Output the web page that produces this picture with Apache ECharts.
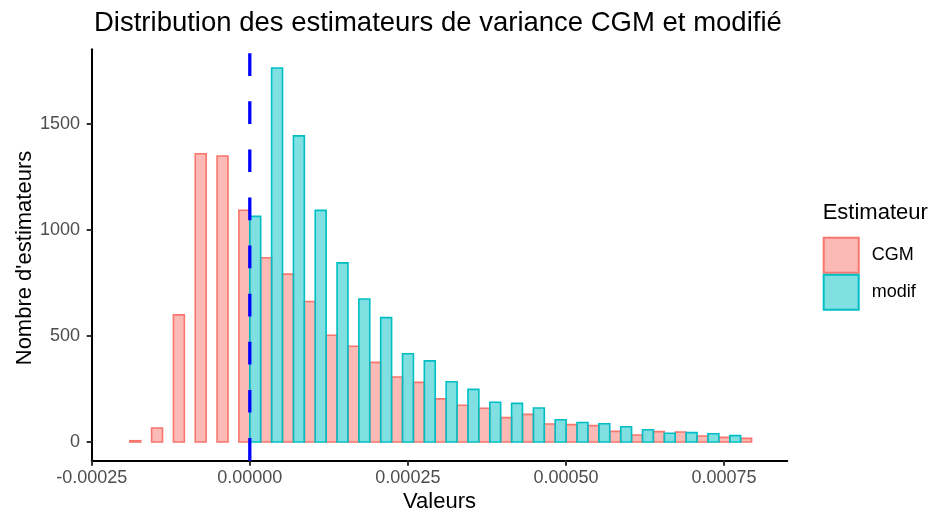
<!DOCTYPE html>
<html>
<head>
<meta charset="utf-8">
<script src="https://cdn.jsdelivr.net/npm/echarts@6/dist/echarts.min.js"></script>
<style>
  html, body { margin: 0; padding: 0; background: #fff; }
  #chart { width: 929px; height: 515px; }
</style>
</head>
<body>
<div id="chart"></div>
<script>
// ---- data ----
const binWidth = 0.0000345;
const binCenters = [
  -0.0001725, -0.000138, -0.0001035, -0.000069, -0.0000345,
  0, 0.0000345, 0.000069, 0.0001035, 0.000138,
  0.0001725, 0.000207, 0.0002415, 0.000276, 0.0003105,
  0.000345, 0.0003795, 0.000414, 0.0004485, 0.000483,
  0.0005175, 0.000552, 0.0005865, 0.000621, 0.0006555,
  0.00069, 0.0007245, 0.000759, 0.0007935
];
const cgmCounts = [
  6, 66, 599, 1358, 1347,
  1092, 868, 791, 662, 503,
  451, 375, 306, 281, 203,
  173, 159, 115, 130, 85,
  82, 77, 50, 33, 49,
  47, 28, 22, 17
];
const modifCounts = [
  null, null, null, null, null,
  1063, 1762, 1442, 1091, 844,
  674, 586, 416, 382, 284,
  248, 187, 182, 160, 105,
  92, 86, 72, 58, 41,
  44, 39, 30, null
];
const seriesNames = ['CGM', 'modif'];
const xTicks = [-0.00025, 0, 0.00025, 0.0005, 0.00075];
const yTicks = [0, 500, 1000, 1500];
const refLine = 0;

// ---- styles ----
const fills = ['rgba(248,118,109,0.5)', 'rgba(0,191,196,0.5)'];
const strokes = ['#F8766D', '#00BFC4'];
const FONT = 'Liberation Sans, Arial, Helvetica, sans-serif';

function toData(counts) {
  const out = [];
  counts.forEach((c, i) => { if (c !== null) out.push([binCenters[i], c]); });
  return out;
}

function renderBar(side) {
  return function (params, api) {
    const x = api.value(0), y = api.value(1);
    const x0 = side < 0 ? x - binWidth / 2 : x;
    const x1 = side < 0 ? x : x + binWidth / 2;
    const p0 = api.coord([x0, y]);
    const p1 = api.coord([x1, 0]);
    return {
      type: 'rect',
      shape: { x: p0[0], y: p0[1], width: p1[0] - p0[0], height: p1[1] - p0[1] },
      style: api.style()
    };
  };
}

const chart = echarts.init(document.getElementById('chart'), null, { renderer: 'canvas' });

const option = {
  backgroundColor: '#ffffff',
  animation: false,
  title: {
    text: 'Distribution des estimateurs de variance CGM et modifié',
    left: 94, top: 10, padding: 0,
    textStyle: { fontFamily: FONT, fontSize: 27.5, fontWeight: 'normal', color: '#000', lineHeight: 27 }
  },
  grid: { left: 91.7, right: 141.7, top: 49.3, bottom: 54.3, containLabel: false },
  xAxis: {
    type: 'value',
    min: -0.00025, max: 0.00085,
    splitLine: { show: false },
    axisLine: { show: true, onZero: false, lineStyle: { color: '#000', width: 2 } },
    axisTick: { show: true, customValues: xTicks, length: 5, lineStyle: { color: '#333', width: 2 } },
    axisLabel: {
      customValues: xTicks, margin: 8,
      formatter: v => v.toFixed(5),
      fontFamily: FONT, fontSize: 18, color: '#4D4D4D'
    }
  },
  yAxis: {
    type: 'value',
    min: -88.1, max: 1850,
    splitLine: { show: false },
    axisLine: { show: true, onZero: false, lineStyle: { color: '#000', width: 2 } },
    axisTick: { show: true, customValues: yTicks, length: 5, lineStyle: { color: '#333', width: 2 } },
    axisLabel: {
      customValues: yTicks, margin: 11.7,
      formatter: v => String(Math.round(v)),
      fontFamily: FONT, fontSize: 18, color: '#4D4D4D'
    }
  },
  legend: {
    orient: 'vertical',
    left: 822.7, top: 236.7, padding: 0,
    itemWidth: 35, itemHeight: 35, itemGap: 0,
    icon: 'rect',
    textStyle: { fontFamily: FONT, fontSize: 18, color: '#000', padding: [0, 0, 0, 8] },
    data: seriesNames.map((n, i) => ({
      name: n, icon: 'rect',
      itemStyle: { color: fills[i], borderColor: strokes[i], borderWidth: 2 }
    }))
  },
  graphic: [
    {
      type: 'text', x: 439.5, y: 502,
      style: { text: 'Valeurs', font: '22px ' + FONT, fill: '#000', align: 'center', verticalAlign: 'middle' }
    },
    {
      type: 'text', x: 25, y: 258, rotation: Math.PI / 2,
      style: { text: "Nombre d'estimateurs", font: '22px ' + FONT, fill: '#000', align: 'center', verticalAlign: 'middle' }
    },
    {
      type: 'text', x: 822.7, y: 213,
      style: { text: 'Estimateur', font: '22px ' + FONT, fill: '#000', align: 'left', verticalAlign: 'middle' }
    }
  ],
  series: [
    {
      name: seriesNames[0], type: 'custom', renderItem: renderBar(-1),
      encode: { x: 0, y: 1 },
      itemStyle: { color: fills[0], borderColor: strokes[0], borderWidth: 1.6 },
      data: toData(cgmCounts), z: 2
    },
    {
      name: seriesNames[1], type: 'custom', renderItem: renderBar(1),
      encode: { x: 0, y: 1 },
      itemStyle: { color: fills[1], borderColor: strokes[1], borderWidth: 1.6 },
      data: toData(modifCounts), z: 2
    },
    {
      name: 'ref', type: 'line', showSymbol: false, symbol: 'none',
      data: [[refLine, -88.1], [refLine, 1850]],
      lineStyle: { color: '#0000FF', width: 3.3, type: [22.7, 25.4] },
      silent: true, z: 3
    }
  ]
};
chart.setOption(option);
</script>
</body>
</html>
